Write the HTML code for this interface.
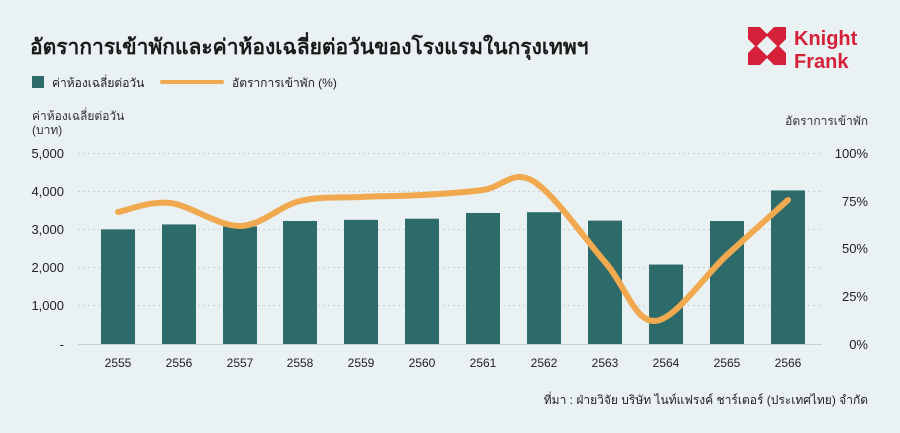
<!DOCTYPE html>
<html><head><meta charset="utf-8"><style>
body{margin:0;width:900px;height:428px;background:#eaf1f3;overflow:hidden;font-family:"Liberation Sans","Noto Sans CJK SC",sans-serif}
</style></head><body>
<svg width="900" height="428" xmlns="http://www.w3.org/2000/svg" font-family="Liberation Sans, Noto Sans CJK SC, sans-serif">
<rect width="900" height="428" fill="#eaf1f3"/>
<text x="30" y="54" font-size="21" font-weight="bold" fill="#1a1a1a">อัตราการเข้าพักและค่าห้องเฉลี่ยต่อวันของโรงแรมในกรุงเทพฯ</text>
<g fill="#d5203a">
<polygon points="748,27 760,27 767,34 774,27 786,27 786,39 779,46 786,53 786,65 774,65 767,58 760,65 748,65 748,53 755,46 748,39"/>
</g>
<polygon points="767,36 777,46 767,56 757,46" fill="#eaf1f3"/>
<text x="794" y="45" font-size="20" font-weight="bold" fill="#d5203a">Knight</text>
<text x="794" y="68" font-size="20" font-weight="bold" fill="#d5203a">Frank</text>
<rect x="32" y="76" width="12" height="12" fill="#2d6b6a"/>
<text x="52" y="87" font-size="12" fill="#222">ค่าห้องเฉลี่ยต่อวัน</text>
<rect x="160" y="80" width="64" height="4" rx="2" fill="#f0a94e"/>
<text x="232" y="87" font-size="12" fill="#222">อัตราการเข้าพัก (%)</text>
<text x="32" y="120" font-size="12" fill="#333">ค่าห้องเฉลี่ยต่อวัน</text>
<text x="32" y="134" font-size="12" fill="#333">(บาท)</text>
<text x="868" y="125" font-size="12" fill="#333" text-anchor="end">อัตราการเข้าพัก</text>
<g stroke="#c9d0d3" stroke-dasharray="2,3" stroke-width="1">
<line x1="78" x2="822" y1="153.5" y2="153.5"/><line x1="78" x2="822" y1="191.5" y2="191.5"/>
<line x1="78" x2="822" y1="229.5" y2="229.5"/><line x1="78" x2="822" y1="267.5" y2="267.5"/>
<line x1="78" x2="822" y1="305.5" y2="305.5"/>
</g>
<line x1="78" x2="822" y1="344.5" y2="344.5" stroke="#c9d0d3"/>
<g font-size="13" fill="#222" text-anchor="end">
<text x="64" y="158">5,000</text><text x="64" y="196">4,000</text><text x="64" y="234">3,000</text>
<text x="64" y="272">2,000</text><text x="64" y="310">1,000</text><text x="64" y="349">-</text>
</g>
<g font-size="13" fill="#222" text-anchor="end">
<text x="868" y="158">100%</text><text x="868" y="206">75%</text><text x="868" y="253">50%</text>
<text x="868" y="301">25%</text><text x="868" y="349">0%</text>
</g>
<g fill="#2d6b6a" id="bars"></g>
<g font-size="12" fill="#222" text-anchor="middle" id="xl"></g>
<path id="ln" fill="none" stroke="#f0a94e" stroke-width="6" stroke-linecap="round"/>
<text x="868" y="404" font-size="12" fill="#222" text-anchor="end">ที่มา : ฝ่ายวิจัย บริษัท ไนท์แฟรงค์ ชาร์เตอร์ (ประเทศไทย) จำกัด</text>
</svg>
<script>
var cx=[118,179,240,300,361,422,483,544,605,666,727,788];
var v=[3000,3130,3080,3220,3250,3280,3430,3450,3230,2080,3220,4020];
var b=document.getElementById('bars'),xl=document.getElementById('xl'),ns="http://www.w3.org/2000/svg";
for(var i=0;i<12;i++){var r=document.createElementNS(ns,'rect');var t=344-v[i]*0.0382;
r.setAttribute('x',cx[i]-17);r.setAttribute('y',t);r.setAttribute('width',34);r.setAttribute('height',344-t);b.appendChild(r);
var tx=document.createElementNS(ns,'text');tx.setAttribute('x',cx[i]);tx.setAttribute('y',367);tx.textContent=2555+i;xl.appendChild(tx);}
var p=[[118,212],[170,203],[240,226],[300,201],[361,197],[422,195],[483,190],[533,181],[605,262],[655,321],[727,255],[788,200]];
var d="M"+p[0][0]+","+p[0][1];
for(var i=0;i<p.length-1;i++){var p0=p[i-1]||p[i],p1=p[i],p2=p[i+1],p3=p[i+2]||p2;
d+=" C"+(p1[0]+(p2[0]-p0[0])/6)+","+(p1[1]+(p2[1]-p0[1])/6)+" "+(p2[0]-(p3[0]-p1[0])/6)+","+(p2[1]-(p3[1]-p1[1])/6)+" "+p2[0]+","+p2[1];}
document.getElementById('ln').setAttribute('d',d);
</script>
</body></html>
